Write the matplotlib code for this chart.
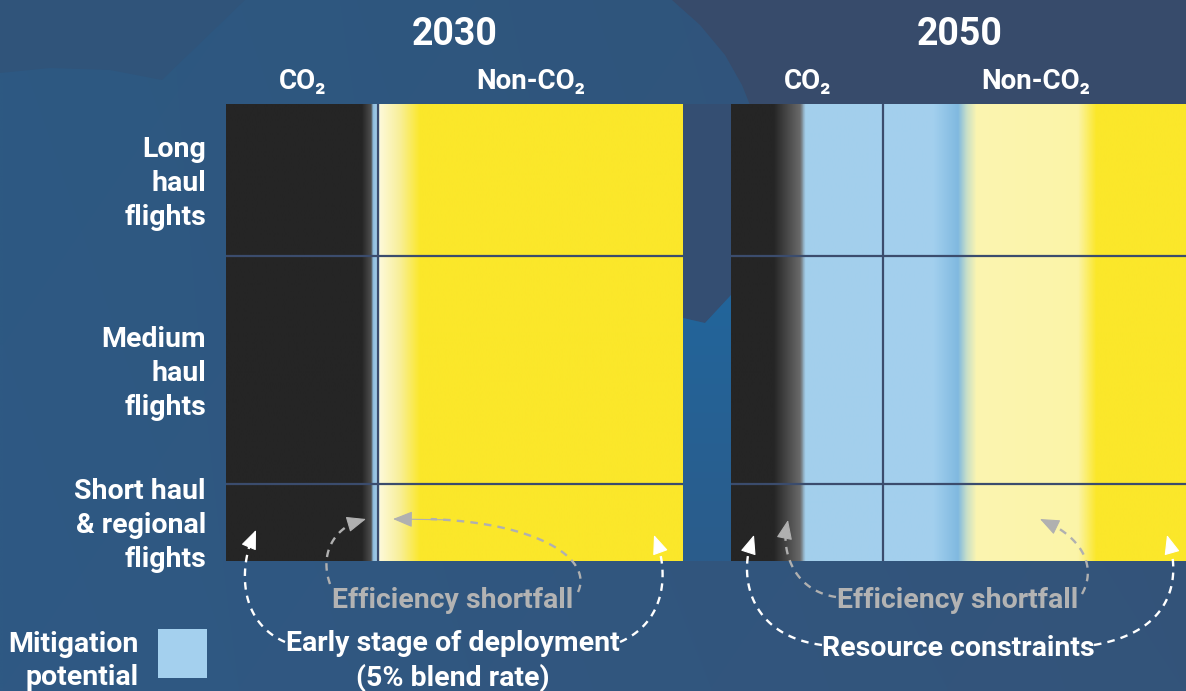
import numpy as np
import matplotlib
matplotlib.use('Agg')
import matplotlib.pyplot as plt
from matplotlib.colors import LinearSegmentedColormap, to_rgb
from matplotlib.patches import Polygon, Rectangle, FancyArrowPatch
from matplotlib.path import Path

plt.rcParams['font.family'] = ['Roboto', 'DejaVu Sans']

# ---------------- data ----------------
years = ['2030', '2050']
columns = ['CO₂', 'Non-CO₂']
rows = ['Long\nhaul\nflights', 'Medium\nhaul\nflights', 'Short haul\n& regional\nflights']
row_shares = [33.3, 49.9, 16.8]      # % of panel height, top to bottom
co2_share = 33.3                     # % of panel width taken by CO2

# colour profile across each panel (position in % of width, colour)
stops_2030 = [0, 29.7, 31.8, 32.1, 33.1, 33.7, 38.0, 42.5, 100]
colors_2030 = ['#252525', '#252525', '#4f4f4f', '#8cbadb', '#a5cfea',
               '#fdf9d8', '#f8ef9a', '#fbe72a', '#fbe72a']
stops_2050 = [0, 9.3, 15.1, 16.2, 44.2, 49.7, 51.6, 53.8, 76.0, 80.0, 100]
colors_2050 = ['#252525', '#252525', '#6a6a6a', '#a3cfec', '#a3d0ee', '#80b9e0',
               '#c8dfc8', '#fcf5b0', '#fbf4a8', '#fbe72a', '#fbe72a']
profiles = [(stops_2030, colors_2030), (stops_2050, colors_2050)]

bottom_labels = ['Early stage of deployment\n(5% blend rate)', 'Resource constraints']
shortfall_label = 'Efficiency shortfall'
legend_label = 'Mitigation\npotential'
legend_color = '#a4d0ee'

# ---------------- layout ----------------
W, H = 1186, 691
fig = plt.figure(figsize=(W / 100, H / 100), dpi=100)

PANEL_X = [226, 731]
PANEL_Y = 104
PANEL_S = 457

# background
ax_bg = fig.add_axes([0, 0, 1, 1], zorder=0)
ax_bg.set_xlim(0, W)
ax_bg.set_ylim(H, 0)
ax_bg.axis('off')

yy, xx = np.mgrid[0:1:120j, 0:1:200j]
TL = np.array([45, 89, 130]) / 255
TR = np.array([50, 82, 120]) / 255
BL = np.array([47, 89, 132]) / 255
BR = np.array([52, 84, 122]) / 255
img = ((1 - yy)[..., None] * ((1 - xx)[..., None] * TL + xx[..., None] * TR)
       + yy[..., None] * ((1 - xx)[..., None] * BL + xx[..., None] * BR))
ax_bg.imshow(img, extent=(0, W, H, 0), aspect='auto', interpolation='bilinear', zorder=0)

# darker cap top-left
ax_bg.add_patch(Polygon([(0, 0), (245, 0), (162, 80), (110, 70), (50, 68), (0, 73)],
                        closed=True, facecolor='#30547a', edgecolor='none', zorder=1))
# darker region top-right beyond an arc
ax_bg.add_patch(Polygon([(672, 0), (700, 25), (725, 55), (742, 85), (752, 110), (770, 200),
                         (780, 561), (1186, 561), (1186, 0)],
                        closed=True, facecolor='#374b6b', edgecolor='none', zorder=1))
# area between the panels
ax_bg.add_patch(Polygon([(683, 104), (731, 104), (731, 295), (705, 323), (683, 318)],
                        closed=True, facecolor='#344e72', edgecolor='none', zorder=1))
# brighter patch between panels
bright = Polygon([(683, 318), (705, 323), (731, 295), (731, 561), (683, 561)],
                 closed=True, facecolor='none', edgecolor='none', zorder=1)
ax_bg.add_patch(bright)
grad = np.linspace(0, 1, 100)[:, None]
c_top = np.array(to_rgb('#22659b'))
c_bot = np.array(to_rgb('#2b5c8b'))
bimg = (1 - grad)[..., None] * c_top + grad[..., None] * c_bot
bimg = np.repeat(bimg, 2, axis=1)
im = ax_bg.imshow(bimg, extent=(683, 731, 561, 295), aspect='auto', zorder=2)
im.set_clip_path(bright)
ax_bg.set_xlim(0, W)
ax_bg.set_ylim(H, 0)

# ---------------- panels ----------------
line_col = '#3b4c6d'
for i, (px, (stops, cols)) in enumerate(zip(PANEL_X, profiles)):
    ax = fig.add_axes([px / W, 1 - (PANEL_Y + PANEL_S) / H, PANEL_S / W, PANEL_S / H], zorder=1)
    cmap = LinearSegmentedColormap.from_list(
        'p%d' % i, list(zip(np.array(stops) / 100.0, cols)), N=1024)
    ax.imshow(np.linspace(0, 1, 1200)[None, :], cmap=cmap, extent=(0, 100, 100, 0),
              aspect='auto', interpolation='bilinear')
    ax.set_xlim(0, 100)
    ax.set_ylim(100, 0)
    for b in np.cumsum(row_shares)[:-1]:
        ax.axhline(b, color=line_col, lw=1.6)
    ax.axvline(co2_share, color=line_col, lw=1.6)
    ax.axis('off')

# ---------------- text & arrows overlay ----------------
ov = fig.add_axes([0, 0, 1, 1], zorder=2)
ov.set_xlim(0, W)
ov.set_ylim(H, 0)
ov.axis('off')
ov.patch.set_alpha(0)

def bold(x, y, s, size, color='white', ha='center', **kw):
    ov.text(x, y, s, fontsize=size, fontweight='bold', color=color, ha=ha, va='center', **kw)

FS = 20.5
for px, yr in zip(PANEL_X, years):
    bold(px + PANEL_S / 2, 34, yr, 27)
    cx_co2 = px + PANEL_S * co2_share / 100 / 2
    cx_non = px + PANEL_S * (co2_share + (100 - co2_share) / 2) / 100
    bold(cx_co2, 81, columns[0], 20)
    bold(cx_non, 81, columns[1], 20)

edges = np.concatenate([[0], np.cumsum(row_shares)])
for r, lab in enumerate(rows):
    cy = PANEL_Y + PANEL_S * (edges[r] + edges[r + 1]) / 200
    bold(206, cy + 3, lab, FS, ha='right', multialignment='right', linespacing=1.33)

bold(453, 600, shortfall_label, FS, color='#b3b3b3')
bold(958, 600, shortfall_label, FS, color='#b3b3b3')
bold(453, 661, bottom_labels[0], FS, multialignment='center', linespacing=1.28)
bold(958, 648, bottom_labels[1], FS)
bold(139, 661, legend_label, FS, ha='right', multialignment='right', linespacing=1.28)
ov.add_patch(Rectangle((158, 629), 49, 49, facecolor=legend_color, edgecolor='none'))

def bez(pts, t):
    p = np.array(pts, dtype=float)
    return ((1 - t) ** 3 * p[0] + 3 * (1 - t) ** 2 * t * p[1]
            + 3 * (1 - t) * t ** 2 * p[2] + t ** 3 * p[3])

def arrow(pts, color, lw=1.7):
    # dashed curve stops a little short of the tip, then a solid head
    ts = np.linspace(0, 0.9, 80)
    curve = np.array([bez(pts, t) for t in ts])
    ov.plot(curve[:, 0], curve[:, 1], color=color, lw=lw,
            linestyle=(0, (3.2, 2.6)), solid_capstyle='butt', dash_capstyle='butt')
    start = bez(pts, 0.86)
    a = FancyArrowPatch(posA=tuple(start), posB=tuple(pts[3]),
                        arrowstyle='-|>,head_length=1.1,head_width=0.45',
                        mutation_scale=11, color=color, lw=0.8,
                        shrinkA=0, shrinkB=0)
    ov.add_patch(a)

white = 'white'
grey = '#b0b0b0'
# 2030
arrow([(285, 642), (235, 620), (240, 560), (256, 530)], white)
arrow([(620, 642), (670, 620), (668, 565), (654, 535)], white)
arrow([(330, 584), (318, 550), (338, 524), (366, 519)], grey)
arrow([(578, 592), (595, 555), (525, 515), (393, 519)], grey)
# 2050
arrow([(822, 645), (745, 635), (738, 570), (754, 535)], white)
arrow([(1094, 645), (1180, 630), (1180, 570), (1167, 535)], white)
arrow([(836, 597), (790, 590), (780, 545), (788, 520)], grey)
arrow([(1082, 594), (1098, 565), (1080, 535), (1040, 519)], grey)

fig.savefig('out.png', dpi=100)
